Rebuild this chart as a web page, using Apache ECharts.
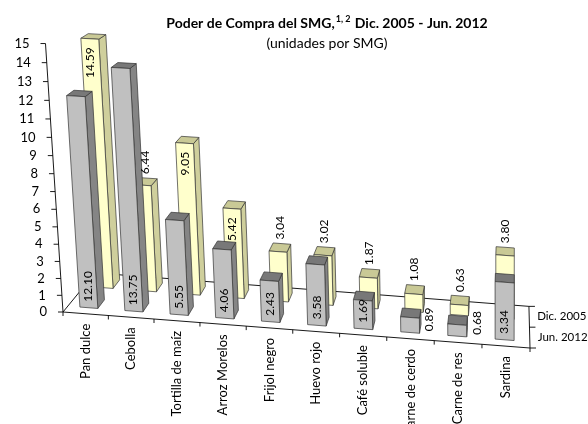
<!DOCTYPE html>
<html><head><meta charset="utf-8">
<script src="https://cdn.jsdelivr.net/npm/echarts@6/dist/echarts.min.js"></script>
<style>html,body{margin:0;padding:0;background:#fff}#c{width:588px;height:424px}</style>
</head><body><div id="c"></div>
<script>
// ---------------- data ----------------
const categories = ['Pan dulce','Cebolla','Tortilla de maíz','Arroz Morelos','Frijol negro','Huevo rojo','Café soluble','Carne de cerdo','Carne de res','Sardina'];
const jun2012 = [12.10, 13.75, 5.55, 4.06, 2.43, 3.58, 1.69, 0.89, 0.68, 3.34];
const dic2005 = [14.59, 6.44, 9.05, 5.42, 3.04, 3.02, 1.87, 1.08, 0.63, 3.80];
const seriesNames = ['Jun. 2012', 'Dic. 2005'];
const yTicks = [0,1,2,3,4,5,6,7,8,9,10,11,12,13,14,15];
const titleText = 'Poder de Compra del SMG,';
const titleSup = '1, 2';
const titleRest = ' Dic. 2005 - Jun. 2012';
const subTitle = '(unidades por SMG)';

// ---------------- projection (pseudo 3D perspective) ----------------
const PROJ = {drop:36, vpDx:452, vpDy:-551, depthK:14.1, vvDx:437, vvDy:6700, growX:0.0032, growH:0.03, shrinkD:0.07};
const ROWS = {front:[0.15, 0.37], back:[0.66, 0.88]};
const BAR = [0.27, 0.67];
const FONT = 'Lato';
const COL = {
  front:{face:'#c0c0c0', side:'#858585', top:'#787878'},
  back:{face:'#ffffcc', side:'#cfcf9c', top:'#c9c996'}
};
const EDGE = '#333333';

function frame(api){
  const bw = api.size([1,0])[0];
  const p0 = api.coord([0,0]);
  return {bw:bw, L:p0[0]-bw/2, baseY:p0[1], unit:api.size([0,1])[1]};
}
function tOf(api,f,i,frac){ return (api.coord([i,0])[0] - f.bw/2 + frac*f.bw - f.L)/f.bw; }
function xAt(f,t){ return f.L + f.bw*((1-PROJ.growX*10)*t + PROJ.growX*t*t); }
function hPix(api,f,v){ const u = api.size([0,v])[1]/f.unit; return f.unit*(0.9275*u + 0.00484*u*u); }
function proj(f,t,d,h){
  const X = xAt(f,t);
  const W = f.bw*10;
  const Fy = f.baseY + PROJ.drop*(X - f.L)/W;
  const vpx = f.L + PROJ.vpDx, vpy = f.baseY + PROJ.vpDy;
  const k = d/PROJ.depthK;
  const sx = X + k*(vpx - X), sy = Fy + k*(vpy - Fy);
  const vvx = f.L + PROJ.vvDx, vvy = f.baseY + PROJ.vvDy;
  let ux = sx - vvx, uy = sy - vvy; const len = Math.hypot(ux,uy); ux/=len; uy/=len;
  const hs = h*(1 + PROJ.growH*t/10)*(1 - d*PROJ.shrinkD);
  return [sx + ux*hs, sy + uy*hs];
}
function poly(pts, fill){ return {type:'polygon', shape:{points:pts}, style:{fill:fill, stroke:EDGE, lineWidth:0.7}}; }

function barRender(row){
  return function(params, api){
    const f = frame(api);
    const i = api.value(0), v = api.value(1);
    const d0 = ROWS[row][0], d1 = ROWS[row][1];
    const t0 = tOf(api,f,i,BAR[0]), t1 = tOf(api,f,i,BAR[1]);
    const h = hPix(api,f,v);
    const A=proj(f,t0,d0,0), B=proj(f,t1,d0,0), C=proj(f,t1,d0,h), D=proj(f,t0,d0,h);
    const A2=proj(f,t0,d1,0), B2=proj(f,t1,d1,0), C2=proj(f,t1,d1,h), D2=proj(f,t0,d1,h);
    const c = COL[row];
    const ch = [];
    if (B2[0] > B[0] + 0.3) ch.push(poly([B,B2,C2,C], c.side));
    else if (A2[0] < A[0] - 0.3) ch.push(poly([A,A2,D2,D], c.side));
    ch.push(poly([D,C,C2,D2], c.top));
    ch.push(poly([A,B,C,D], c.face));
    return {type:'group', children:ch};
  };
}
function vtext(x,y,txt,align,size){
  return {type:'text', x:x, y:y, rotation:Math.PI/2,
    style:{text:txt, fontFamily:FONT, fontSize:size||12, fill:'#000', align:align, verticalAlign:'middle'}};
}
function labelRender(row){
  return function(params, api){
    const f = frame(api);
    const i = api.value(0), v = api.value(1);
    const d0 = ROWS[row][0], d1 = ROWS[row][1];
    const t0 = tOf(api,f,i,BAR[0]), t1 = tOf(api,f,i,BAR[1]);
    const tc = (t0+t1)/2;
    const h = hPix(api,f,v);
    const txt = v.toFixed(2);
    if (row === 'front') {
      if (v > 1) { const p = proj(f,tc,d0,6); return vtext(p[0],p[1],txt,'left'); }
      const p = proj(f,t1,d0,2); return vtext(p[0]+10,p[1],txt,'left');
    } else {
      if (v > 5 && v > jun2012[i]) { const p = proj(f,tc,d0,h-9); return vtext(p[0],p[1],txt,'right'); }
      const a = proj(f,tc,d0,h), b = proj(f,tc,d1,h);
      return vtext((a[0]+b[0])/2, Math.min(a[1],b[1]) - 4, txt, 'left');
    }
  };
}
function line(a,b){ return {type:'line', shape:{x1:a[0],y1:a[1],x2:b[0],y2:b[1]}, style:{stroke:'#000', lineWidth:0.9}}; }
function decoRender(params, api){
  const f = frame(api);
  const n = categories.length;
  const ch = [];
  const O = proj(f,0,0,0), Ob = proj(f,0,1,0), E = proj(f,n,0,0), Eb = proj(f,n,1,0);
  ch.push(line(O,E)); ch.push(line(O,Ob)); ch.push(line(Ob,Eb)); ch.push(line(E,Eb));
  // category ticks & labels
  for (let k=0;k<=n;k++){ const p = proj(f,k,0,0); ch.push(line(p,[p[0],p[1]+4])); }
  categories.forEach(function(c,k){
    const t = tOf(api,f,k,0.5); const p = proj(f,t,0,0);
    ch.push(vtext(p[0], p[1]+10, c, 'right', 13));
  });
  // value axis
  const top = proj(f,0,0,hPix(api,f,yTicks[yTicks.length-1]));
  ch.push(line(O,top));
  yTicks.forEach(function(v){
    const p = proj(f,0,0,hPix(api,f,v));
    ch.push(line([p[0]-5,p[1]],p));
    ch.push({type:'text', x:p[0]-16, y:p[1], style:{text:String(v), fontFamily:FONT, fontSize:13, fill:'#000', align:'right', verticalAlign:'middle'}});
  });
  // depth axis
  [0,0.5,1].forEach(function(d){ const p = proj(f,n,d,0); ch.push(line(p,[p[0]+6,p[1]])); });
  seriesNames.forEach(function(s,k){
    const p = proj(f,n,k===0?0.25:0.75,0);
    ch.push({type:'text', x:p[0]+8, y:p[1], style:{text:s, fontFamily:FONT, fontSize:11.5, fill:'#000', align:'left', verticalAlign:'middle'}});
  });
  return {type:'group', children:ch};
}

const pts = function(arr){ return arr.map(function(v,i){ return [i,v]; }); };

const option = {
  animation:false,
  backgroundColor:'#ffffff',
  title:{
    text:'{b|'+titleText+'}{s|'+titleSup+'}{b|'+titleRest+'}',
    subtext:subTitle,
    left:322, textAlign:'center', top:10, itemGap:5,
    textStyle:{rich:{
      b:{fontFamily:FONT, fontWeight:'bold', fontSize:14, color:'#000', lineHeight:17},
      s:{fontFamily:FONT, fontWeight:'bold', fontSize:9, color:'#000', lineHeight:17, verticalAlign:'top', padding:[0,1,0,1]}
    }},
    subtextStyle:{fontFamily:FONT, fontSize:14, color:'#000', lineHeight:16}
  },
  grid:{left:63, right:58, top:43, bottom:112, containLabel:false},
  xAxis:{type:'category', data:categories, show:false},
  yAxis:{type:'value', min:0, max:15, interval:1, show:false},
  series:[
    {type:'custom', name:'deco', coordinateSystem:'cartesian2d', data:[[0,0]], renderItem:decoRender, silent:true, z:1, clip:false},
    {type:'custom', name:seriesNames[1], coordinateSystem:'cartesian2d', data:pts(dic2005), renderItem:barRender('back'), silent:true, z:2, clip:false},
    {type:'custom', name:seriesNames[0], coordinateSystem:'cartesian2d', data:pts(jun2012), renderItem:barRender('front'), silent:true, z:3, clip:false},
    {type:'custom', name:'lblBack', coordinateSystem:'cartesian2d', data:pts(dic2005), renderItem:labelRender('back'), silent:true, z:4, clip:false},
    {type:'custom', name:'lblFront', coordinateSystem:'cartesian2d', data:pts(jun2012), renderItem:labelRender('front'), silent:true, z:5, clip:false}
  ]
};
const chart = echarts.init(document.getElementById('c'));
chart.setOption(option);
</script></body></html>
